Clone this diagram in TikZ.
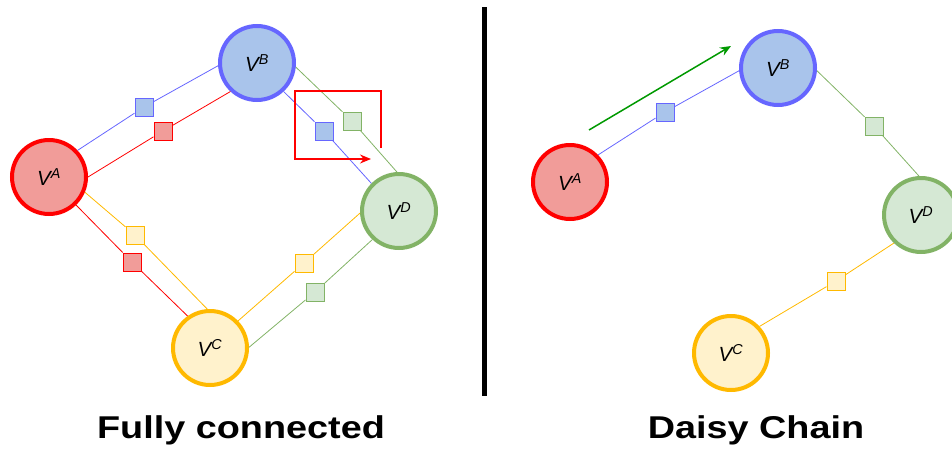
\documentclass[tikz,border=0pt]{standalone}
\usepackage{fontspec}
\setmainfont{Liberation Sans}
\newfontfamily\titlefont{Liberation Sans}[FakeStretch=1.2]
\usetikzlibrary{arrows.meta}

\definecolor{redline}{HTML}{FF0000}
\definecolor{redfill}{HTML}{F19C99}
\definecolor{blueline}{HTML}{6666FF}
\definecolor{bluefill}{HTML}{A9C4EB}
\definecolor{greenline}{HTML}{82B366}
\definecolor{greenfill}{HTML}{D5E8D4}
\definecolor{yellowline}{HTML}{FFB900}
\definecolor{yellowfill}{HTML}{FFF2CC}
\definecolor{flow}{HTML}{009900}

\newcommand{\vtx}[1]{V\textsuperscript{#1}}

\tikzset{
    peer/.style={circle, minimum size=74pt, inner sep=0pt, line width=4pt,
        font=\fontsize{20.5}{24}\selectfont\itshape},
    pa/.style={peer, draw=redline, fill=redfill},
    pb/.style={peer, draw=blueline, fill=bluefill},
    pc/.style={peer, draw=yellowline, fill=yellowfill},
    pd/.style={peer, draw=greenline, fill=greenfill},
    buf/.style={rectangle, minimum size=18pt, inner sep=0pt, line width=1pt},
    wire/.style={line width=0.8pt},
    title/.style={anchor=base, font={\titlefont\bfseries\fontsize{31.5}{36}\selectfont}}
}

\begin{document}
\begin{tikzpicture}[x=1pt, y=-1pt]
    \useasboundingbox (0,0) rectangle (952,450);

    % fully connected
    \node[pa] (a) at (49,177) {\vtx{A}};
    \node[pb] (b) at (257,63) {\vtx{B}};
    \node[pc] (c) at (210,348) {\vtx{C}};
    \node[pd] (d) at (399,211) {\vtx{D}};

    \node[buf, draw=blueline, fill=bluefill] (ab1) at (144,107) {};
    \node[buf, draw=redline, fill=redfill] (ab2) at (163,131) {};
    \node[buf, draw=blueline, fill=bluefill] (bd1) at (324,131) {};
    \node[buf, draw=greenline, fill=greenfill] (bd2) at (352,121) {};
    \node[buf, draw=yellowline, fill=yellowfill] (ac1) at (135,235) {};
    \node[buf, draw=redline, fill=redfill] (ac2) at (132,262) {};
    \node[buf, draw=yellowline, fill=yellowfill] (cd1) at (304,263) {};
    \node[buf, draw=greenline, fill=greenfill] (cd2) at (315,292) {};

    \draw[wire, blueline] (a.43) -- (ab1) -- (b.184);
    \draw[wire, redline] (a.0) -- (ab2) -- (b.227);
    \draw[wire, blueline] (b.313) -- (bd1) -- (d.135);
    \draw[wire, greenline] (b.354) -- (bd2) -- (d.93);
    \draw[wire, yellowline] (a.337) -- (ac1) -- (c.94);
    \draw[wire, redline] (a.314) -- (ac2) -- (c.125);
    \draw[wire, yellowline] (c.44) -- (cd1) -- (d.183);
    \draw[wire, greenline] (c.1) -- (cd2) -- (d.227);

    \draw[line width=1.5pt, redline, -{Stealth[length=11pt, width=9pt]}]
        (381,148) -- (381,91) -- (295,91) -- (295,159) -- (371,159);

    \fill (482,7) rectangle (487,396);

    % daisy chain
    \node[pa] (ra) at (570,182) {\vtx{A}};
    \node[pb] (rb) at (778,68) {\vtx{B}};
    \node[pc] (rc) at (731,353) {\vtx{C}};
    \node[pd] (rd) at (921,215) {\vtx{D}};

    \node[buf, draw=blueline, fill=bluefill] (rab) at (665,112) {};
    \node[buf, draw=greenline, fill=greenfill] (rbd) at (874,126) {};
    \node[buf, draw=yellowline, fill=yellowfill] (rdc) at (836,281) {};

    \draw[wire, blueline] (ra.44) -- (rab) -- (rb.184);
    \draw[wire, greenline] (rb.356) -- (rbd) -- (rd.93);
    \draw[wire, yellowline] (rd.226) -- (rdc) -- (rc.43);

    \coordinate (flowstart) at (589,130);
    \coordinate (flowend) at (731,46);
    \draw[line width=1.5pt, flow, -{Stealth[length=11pt, width=9pt]}] (flowstart) -- (flowend);

    \node[title] (fc) at (241,438) {Fully connected};
    \node[title] (dc) at (756,438) {Daisy Chain};
\end{tikzpicture}
\end{document}
